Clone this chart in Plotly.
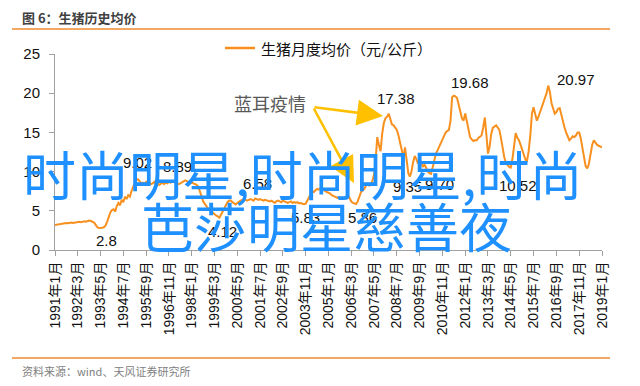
import pandas as pd
import plotly.graph_objects as go

# ---- data: monthly average hog price (yuan/kg), 1991-01 .. 2019-01 ----
y1991 = [3.2, 3.25, 3.3, 3.3, 3.35, 3.4, 3.4, 3.45, 3.4, 3.45, 3.5, 3.45]
y1992 = [3.5, 3.55, 3.5, 3.6, 3.55, 3.6, 3.65, 3.6, 3.7, 3.75, 3.7, 3.6]
y1993 = [3.5, 3.2, 2.9, 2.8, 2.8, 2.85, 2.9, 3.1, 3.6, 4.3, 4.8, 5.1]
y1994 = [5.2, 4.9, 5.6, 6.0, 5.7, 6.4, 6.1, 6.8, 6.5, 7.0, 6.8, 7.5]
y1995 = [8.2, 8.6, 8.9, 9.02, 8.8, 8.5, 8.6, 8.4, 8.7, 8.5, 8.6, 8.4]
y1996 = [8.5, 8.7, 8.4, 8.5, 8.3, 8.5, 8.6, 8.4, 8.6, 8.5, 8.7, 8.6]
y1997 = [8.7, 8.8, 8.6, 8.5, 8.4, 8.5, 8.6, 8.7, 8.89, 8.8, 8.6, 8.5]
y1998 = [8.6, 8.5, 8.4, 8.3, 8.1, 7.6, 6.9, 6.2, 5.8, 5.6, 5.3, 5.1]
y1999 = [5.0, 4.8, 4.6, 4.4, 4.3, 4.12, 4.5, 4.9, 5.4, 5.8, 6.1, 6.3]
y2000 = [6.3, 6.1, 5.9, 5.8, 6.0, 6.2, 6.3, 6.4, 6.5, 6.4, 6.3, 6.4]
y2001 = [6.5, 6.4, 6.3, 6.58, 6.5, 6.4, 6.5, 6.4, 6.3, 6.4, 6.3, 6.2]
y2002 = [6.2, 6.3, 6.1, 6.0, 6.2, 6.3, 6.2, 6.1, 6.3, 6.2, 6.1, 6.0]
y2003 = [6.1, 6.2, 6.0, 6.1, 6.0, 6.1, 5.95, 6.0, 5.9, 5.83, 5.9, 6.3]
y2004 = [6.8, 7.2, 7.5, 7.4, 7.6, 7.8, 7.7, 7.9, 7.8, 7.6, 7.5, 7.4]
y2005 = [7.3, 7.2, 7.0, 6.9, 6.8, 6.7, 6.6, 6.7, 6.6, 6.5, 6.6, 6.8]
y2006 = [7.0, 6.6, 6.2, 6.0, 5.9, 5.86, 6.2, 6.8, 7.4, 7.6, 7.8, 8.2]
y2007 = [8.4, 8.2, 8.4, 8.8, 9.6, 11.5, 14.4, 13.4, 12.6, 14.8, 16.2, 16.8]
y2008 = [17.0, 17.38, 16.8, 16.0, 15.9, 15.6, 15.3, 14.6, 13.6, 12.6, 11.8, 13.1]
y2009 = [11.0, 9.8, 9.35, 10.0, 11.2, 12.0, 11.6, 11.0, 11.6, 11.2, 10.6, 10.9]
y2010 = [10.4, 10.0, 9.8, 9.70, 10.5, 11.6, 12.3, 12.7, 13.2, 13.6, 14.0, 14.6]
y2011 = [15.0, 15.2, 15.3, 16.5, 19.5, 19.68, 19.6, 19.4, 18.4, 17.4, 16.8, 16.5]
y2012 = [17.4, 16.4, 15.4, 14.4, 14.1, 13.9, 14.0, 14.0, 14.3, 14.5, 14.6, 15.6]
y2013 = [16.9, 14.6, 12.3, 13.2, 14.8, 15.6, 15.8, 15.9, 15.6, 15.3, 14.2, 12.8]
y2014 = [11.8, 11.1, 10.8, 10.6, 10.52, 11.6, 13.2, 14.9, 14.3, 14.0, 13.4, 12.7]
y2015 = [12.2, 11.5, 11.4, 12.6, 14.6, 17.4, 18.2, 17.3, 16.5, 17.0, 17.6, 18.1]
y2016 = [18.6, 19.2, 20.0, 20.97, 20.2, 18.7, 18.0, 17.4, 17.6, 18.0, 18.1, 17.2]
y2017 = [16.4, 15.6, 15.0, 14.4, 14.0, 14.2, 14.5, 14.4, 14.6, 15.0, 15.0, 14.2]
y2018 = [13.1, 11.8, 10.7, 10.4, 11.0, 12.2, 13.4, 14.0, 13.7, 13.4, 13.3, 13.2]
y2019 = [13.1]

yearly = [y1991, y1992, y1993, y1994, y1995, y1996, y1997, y1998, y1999, y2000,
          y2001, y2002, y2003, y2004, y2005, y2006, y2007, y2008, y2009, y2010,
          y2011, y2012, y2013, y2014, y2015, y2016, y2017, y2018, y2019]
values = [v for yr in yearly for v in yr]
dates = pd.date_range("1991-01-01", periods=len(values), freq="MS")

tick_dates = ["1991-01-01", "1992-03-01", "1993-05-01", "1994-07-01", "1995-09-01",
              "1996-11-01", "1998-01-01", "1999-03-01", "2000-05-01", "2001-07-01",
              "2002-09-01", "2003-11-01", "2005-01-01", "2006-03-01", "2007-05-01",
              "2008-07-01", "2009-09-01", "2010-11-01", "2012-01-01", "2013-03-01",
              "2014-05-01", "2015-07-01", "2016-09-01", "2017-11-01", "2019-01-01"]
tick_text = ["1991年1月", "1992年3月", "1993年5月", "1994年7月", "1995年9月",
             "1996年11月", "1998年1月", "1999年3月", "2000年5月", "2001年7月",
             "2002年9月", "2003年11月", "2005年1月", "2006年3月", "2007年5月",
             "2008年7月", "2009年9月", "2010年11月", "2012年1月", "2013年3月",
             "2014年5月", "2015年7月", "2016年9月", "2017年11月", "2019年1月"]

# labelled points: date, text
label_dates = ["1993-04-01", "1995-04-01", "1997-09-01", "1999-06-01", "2001-04-01",
               "2003-10-01", "2006-06-01", "2008-02-01", "2009-03-01", "2010-04-01",
               "2011-06-01", "2014-05-01", "2016-04-01"]
label_text = ["2.8", "9.02", "8.89", "4.12", "6.58", "5.83", "5.86", "17.38",
              "9.35", "9.70", "19.68", "10.52", "20.97"]
label_shift = [(8, -12), (0, 17), (-8, 14), (3, -14), (2, 15), (1, -13), (6, -13),
               (7, 15), (-2, -10), (8, -11), (16, 13), (7, -18), (28, 6)]

series_name = "生猪月度均价（元/公斤）"
chart_title = "图 6：生猪历史均价"
source_text = "资料来源：wind、天风证券研究所"
event_text = "蓝耳疫情"
wm_line1 = "时尚明星,时尚明星,时尚"
wm_line2 = "芭莎明星慈善夜"

ORANGE = "#F7901E"
FONT = "Liberation Sans, Arial, Noto Sans CJK SC, sans-serif"
CJK = "Noto Sans CJK SC, sans-serif"

W, H = 640, 386
L, R, T, B = 55, 38, 54, 136
PW, PH = W - L - R, H - T - B


def px(x):
    return (x - L) / PW


def py(y):
    return (H - B - y) / PH


fig = go.Figure()
fig.add_trace(go.Scatter(x=dates, y=values, mode="lines", name=series_name,
                         line=dict(color=ORANGE, width=2), showlegend=False))

value_by_date = dict(zip(dates, values))
annotations = []
for d, t, (dx, dy) in zip(label_dates, label_text, label_shift):
    ts = pd.Timestamp(d)
    annotations.append(dict(x=ts, y=value_by_date[ts], xref="x", yref="y", text=t,
                            showarrow=False, xshift=dx, yshift=dy,
                            font=dict(family=FONT, size=15, color="#111111")))

# title, source
annotations.append(dict(x=px(20), y=py(17), xref="paper", yref="paper", text="<b>" + chart_title + "</b>",
                        showarrow=False, xanchor="left", yanchor="middle",
                        font=dict(family=CJK, size=13, color="#404040")))
annotations.append(dict(x=px(20), y=py(371), xref="paper", yref="paper", text=source_text,
                        showarrow=False, xanchor="left", yanchor="middle",
                        font=dict(family=CJK, size=11, color="#808080")))
# legend (manual)
annotations.append(dict(x=px(259), y=py(48), xref="paper", yref="paper", text=series_name,
                        showarrow=False, xanchor="left", yanchor="middle",
                        font=dict(family=CJK, size=15, color="#111111")))
# event text + arrows
annotations.append(dict(x=px(270), y=py(103), xref="paper", yref="paper", text=event_text,
                        showarrow=False, xanchor="center", yanchor="middle",
                        font=dict(family=CJK, size=18, color="#595959")))
for hx, hy in [(383, 116), (354, 183)]:
    annotations.append(dict(x=px(hx), y=py(hy), xref="paper", yref="paper", text="",
                            showarrow=True, arrowhead=2, arrowsize=2.0, arrowwidth=2.6,
                            arrowcolor="#FFC000", ax=313 - hx, ay=107 - hy))
# watermark overlay
annotations.append(dict(x=px(302), y=py(173), xref="paper", yref="paper", text=wm_line1,
                        showarrow=False, xanchor="center", yanchor="middle",
                        font=dict(family=CJK, size=53, color="#1E90FF")))
annotations.append(dict(x=px(326), y=py(225), xref="paper", yref="paper", text=wm_line2,
                        showarrow=False, xanchor="center", yanchor="middle",
                        font=dict(family=CJK, size=53, color="#1E90FF")))

shapes = [
    dict(type="line", xref="paper", yref="paper", x0=px(12), x1=px(610), y0=py(29), y1=py(29),
         line=dict(color="#EE8A2E", width=1.5)),
    dict(type="line", xref="paper", yref="paper", x0=px(12), x1=px(610), y0=py(358), y1=py(358),
         line=dict(color="#EE8A2E", width=1.5)),
    dict(type="line", xref="paper", yref="paper", x0=px(225), x1=px(255), y0=py(48), y1=py(48),
         line=dict(color=ORANGE, width=2.5)),
]

fig.update_layout(
    width=W, height=H, margin=dict(l=L, r=R, t=T, b=B, pad=0),
    paper_bgcolor="white", plot_bgcolor="white",
    annotations=annotations, shapes=shapes, showlegend=False,
    xaxis=dict(type="date", range=[pd.Timestamp("1991-01-01"), pd.Timestamp("2019-01-01")],
               tickvals=[pd.Timestamp(d) for d in tick_dates], ticktext=tick_text,
               tickangle=-90, showgrid=False, zeroline=False,
               showline=True, linecolor="#A0A0A0", linewidth=1,
               ticks="outside", ticklen=5, tickcolor="#A0A0A0",
               tickfont=dict(family=FONT, size=14, color="#111111")),
    yaxis=dict(range=[0, 25], tickvals=[0, 5, 10, 15, 20, 25], showgrid=False, zeroline=False,
               showline=True, linecolor="#A0A0A0", linewidth=1,
               ticks="outside", ticklen=5, tickcolor="#A0A0A0",
               ticklabelstandoff=6,
               tickfont=dict(family=FONT, size=15, color="#111111")),
)

fig.write_html("out.html")
